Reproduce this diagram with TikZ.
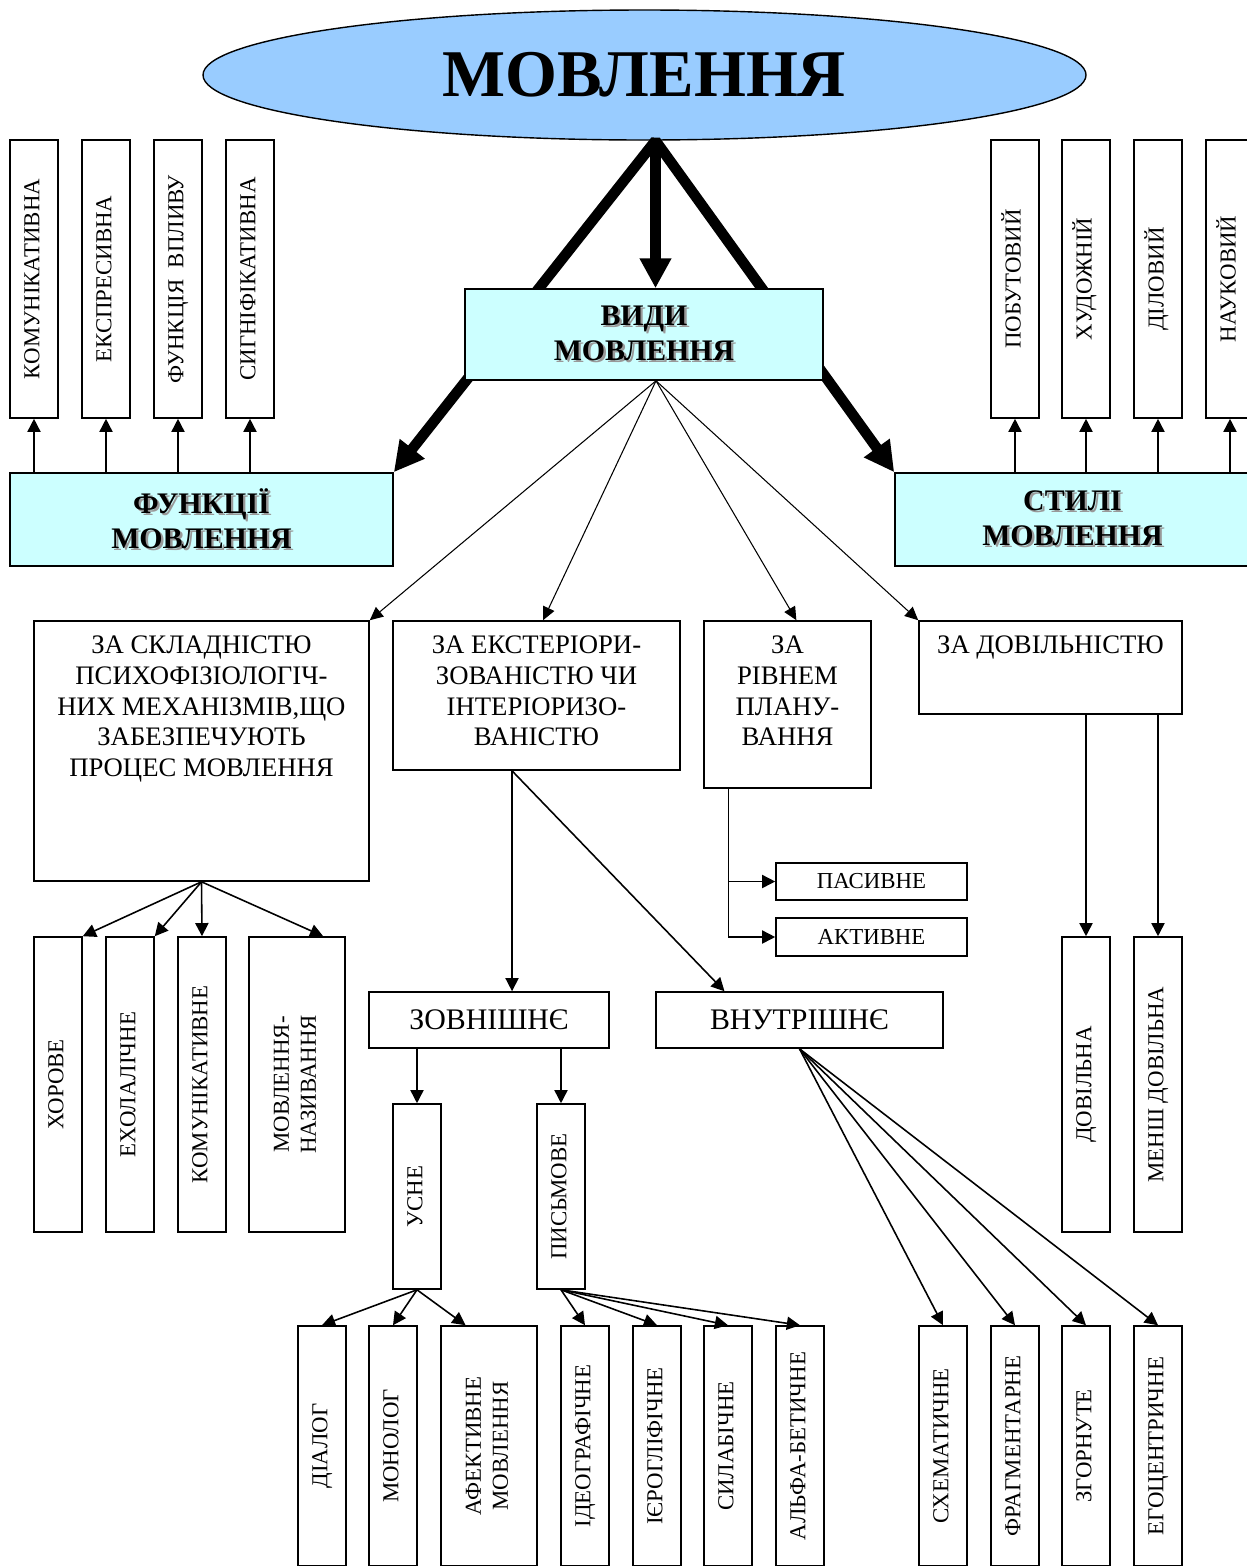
\documentclass[tikz,border=0pt]{standalone}
\usepackage{fontspec}
\setmainfont{Liberation Serif}
\usetikzlibrary{shapes.geometric,arrows.meta,calc}

\definecolor{ovalblue}{RGB}{153,204,255}
\definecolor{boxcyan}{RGB}{204,255,255}

\newcommand{\pxu}{0.02cm}
\newcommand{\vlab}[1]{\rotatebox{90}{\begin{tabular}{@{}c@{}}#1\end{tabular}}}
\newcommand{\shad}[1]{\makebox[0pt][l]{\kern1.3pt\raisebox{-1.3pt}{\textcolor{black!40}{#1}}}#1}

\tikzset{
	wh/.style 2 args={minimum width=#1*\pxu, minimum height=#2*\pxu},
	oval/.style={ellipse, draw, line width=0.8pt, fill=ovalblue, inner sep=0pt},
	headbox/.style={draw, line width=0.9pt, fill=boxcyan, inner sep=0pt, align=center,
		font=\fontsize{17}{20}\selectfont\bfseries},
	tallbox/.style={draw, line width=0.9pt, inner sep=0pt, font=\fontsize{13}{15.4}\selectfont},
	textbox/.style={draw, line width=0.9pt, inner sep=0pt, font=\fontsize{17}{19}\selectfont},
	boxlabel/.style={anchor=north, align=center, inner sep=0pt, yshift=-8.5pt,
		font=\fontsize{15.2}{17.6}\selectfont},
	arr/.style={line width=0.9pt, -{Triangle[length=7.5pt,width=7.5pt]}},
	thinarr/.style={line width=0.6pt, -{Triangle[length=7.5pt,width=7pt]}},
	fatarr/.style={line width=6pt, line join=bevel},
}

\begin{document}
\begin{tikzpicture}[x=\pxu, y=-\pxu]
			\useasboundingbox (0,0) rectangle (1247,1566);
			\clip (0,0) rectangle (1247,1566);

			% root
			\node[oval, wh={883}{130}, font=\fontsize{38}{44}\selectfont\bfseries] (mov) at (644.5,75) {МОВЛЕННЯ};

			% functions and styles
			\node[headbox, wh={383}{93}] (funk) at (201.5,519.5) {\shad{ФУНКЦІЇ}\\\shad{МОВЛЕННЯ}};
			\node[headbox, wh={355}{93}] (styli) at (1072.5,519.5) {\shad{СТИЛІ}\\\shad{МОВЛЕННЯ}};

			% fat arrows, under the types box
			\coordinate (hubtop) at ($(mov.south)+(11,0)$);
			\draw[fatarr, {Triangle[length=17pt,width=17pt]}-{Triangle[length=17pt,width=17pt]}]
				(funk.north east) -- (hubtop) -- (styli.north west);
			\node[headbox, wh={358}{91}] (vydy) at (644,334.5) {\shad{ВИДИ}\\\shad{МОВЛЕННЯ}};
			\draw[fatarr, -{Triangle[length=17pt,width=17pt]}] (hubtop) -- (vydy.north -| hubtop);

			% functions
			\node[tallbox, wh={48}{278}] (komf) at (34,279) {\vlab{КОМУНІКАТИВНА}};
			\node[tallbox, wh={48}{278}] (ekspr) at (106,279) {\vlab{ЕКСПРЕСИВНА}};
			\node[tallbox, wh={48}{278}] (vplyv) at (178,279) {\vlab{ФУНКЦІЯ\ \ ВПЛИВУ}};
			\node[tallbox, wh={48}{278}] (syhn) at (250,279) {\vlab{СИГНІФІКАТИВНА}};
			\draw[arr] (komf.south |- funk.north) -- (komf.south);
			\draw[arr] (ekspr.south |- funk.north) -- (ekspr.south);
			\draw[arr] (vplyv.south |- funk.north) -- (vplyv.south);
			\draw[arr] (syhn.south |- funk.north) -- (syhn.south);

			% styles
			\node[tallbox, wh={48}{278}] (pobut) at (1015,279) {\vlab{ПОБУТОВИЙ}};
			\node[tallbox, wh={48}{278}] (khud) at (1086,279) {\vlab{ХУДОЖНІЙ}};
			\node[tallbox, wh={48}{278}] (dilov) at (1158,279) {\vlab{ДІЛОВИЙ}};
			\node[tallbox, wh={48}{278}] (nauk) at (1230,279) {\vlab{НАУКОВИЙ}};
			\draw[arr] (pobut.south |- styli.north) -- (pobut.south);
			\draw[arr] (khud.south |- styli.north) -- (khud.south);
			\draw[arr] (dilov.south |- styli.north) -- (dilov.south);
			\draw[arr] (nauk.south |- styli.north) -- (nauk.south);

			% types
			\coordinate (hubbot) at ($(vydy.south)+(12,0)$);
			\node[textbox, wh={335}{260}, label={[boxlabel]north:{ЗА СКЛАДНІСТЮ\\ПСИХОФІЗІОЛОГІЧ-\\НИХ МЕХАНІЗМІВ,ЩО\\ЗАБЕЗПЕЧУЮТЬ\\ПРОЦЕС МОВЛЕННЯ}}] (sklad) at (201.5,751) {};
			\node[textbox, wh={287}{149}, label={[boxlabel]north:{ЗА ЕКСТЕРІОРИ-\\ЗОВАНІСТЮ ЧИ\\ІНТЕРІОРИЗО-\\ВАНІСТЮ}}] (ekst) at (536.5,695.5) {};
			\node[textbox, wh={167}{167}, label={[boxlabel]north:{ЗА\\РІВНЕМ\\ПЛАНУ-\\ВАННЯ}}] (riv) at (787.5,704.5) {};
			\node[textbox, wh={263}{93}, label={[boxlabel]north:{ЗА ДОВІЛЬНІСТЮ}}] (dov) at (1050.5,667.5) {};
			\draw[thinarr] (hubbot) -- (sklad.north east);
			\draw[thinarr] (hubbot) -- (ekst.85);
			\draw[thinarr] (hubbot) -- (riv.84);
			\draw[thinarr] (hubbot) -- (dov.north west);

			% by complexity
			\node[tallbox, wh={48}{295}] (khor) at (58,1084.5) {\vlab{ХОРОВЕ}};
			\node[tallbox, wh={48}{295}] (ekhol) at (130,1084.5) {\vlab{ЕХОЛАЛІЧНЕ}};
			\node[tallbox, wh={48}{295}] (komn) at (202,1084.5) {\vlab{КОМУНІКАТИВНЕ}};
			\node[tallbox, wh={96}{295}] (nazyv) at (297,1084.5) {\vlab{МОВЛЕННЯ-\\НАЗИВАННЯ}};
			\draw[arr] (sklad.south) -- (khor.north east);
			\draw[arr] (sklad.south) -- (ekhol.north east);
			\draw[arr] (sklad.south) -- (komn.north);
			\draw[arr] (sklad.south) -- (nazyv.80);

			% outer / inner
			\node[textbox, wh={240}{56}] (zovn) at (489,1020) {ЗОВНІШНЄ};
			\node[textbox, wh={287}{56}] (vnut) at (799.5,1020) {ВНУТРІШНЄ};
			\draw[arr] (ekst.252) -- (ekst.252 |- zovn.north);
			\draw[arr] (ekst.252) -- (vnut.159);

			% by planning
			\node[textbox, wh={191}{37}, font=\fontsize{13}{15}\selectfont] (pas) at (871.5,881.5) {ПАСИВНЕ};
			\node[textbox, wh={191}{38}, font=\fontsize{13}{15}\selectfont] (akt) at (871.5,937) {АКТИВНЕ};
			\draw[arr] (riv.235) |- (pas.west);
			\draw[arr] (riv.235) |- (akt.west);

			% by voluntariness
			\node[tallbox, wh={48}{295}] (dovl) at (1086,1084.5) {\vlab{ДОВІЛЬНА}};
			\node[tallbox, wh={48}{295}] (mensh) at (1158,1084.5) {\vlab{МЕНШ ДОВІЛЬНА}};
			\draw[arr] (dovl.north |- dov.south) -- (dovl.north);
			\draw[arr] (mensh.north |- dov.south) -- (mensh.north);

			% oral / written
			\node[tallbox, wh={48}{185}] (usne) at (417,1196.5) {\vlab{УСНЕ}};
			\node[tallbox, wh={48}{185}] (pysm) at (561,1196.5) {\vlab{ПИСЬМОВЕ}};
			\draw[arr] (usne.north |- zovn.south) -- (usne.north);
			\draw[arr] (pysm.north |- zovn.south) -- (pysm.north);

			% bottom row
			\node[tallbox, wh={48}{240}] (dial) at (322,1446) {\vlab{ДІАЛОГ}};
			\node[tallbox, wh={48}{240}] (monol) at (393,1446) {\vlab{МОНОЛОГ}};
			\node[tallbox, wh={96}{240}] (afekt) at (489,1446) {\vlab{АФЕКТИВНЕ\\МОВЛЕННЯ}};
			\node[tallbox, wh={48}{240}] (ideo) at (585,1446) {\vlab{ІДЕОГРАФІЧНЕ}};
			\node[tallbox, wh={48}{240}] (iero) at (657,1446) {\vlab{ІЄРОГЛІФІЧНЕ}};
			\node[tallbox, wh={48}{240}] (sylab) at (728,1446) {\vlab{СИЛАБІЧНЕ}};
			\node[tallbox, wh={48}{240}] (alfa) at (800,1446) {\vlab{АЛЬФА-БЕТИЧНЕ}};
			\node[tallbox, wh={48}{240}] (skhem) at (943,1446) {\vlab{СХЕМАТИЧНЕ}};
			\node[tallbox, wh={48}{240}] (frahm) at (1015,1446) {\vlab{ФРАГМЕНТАРНЕ}};
			\node[tallbox, wh={48}{240}] (zhorn) at (1086,1446) {\vlab{ЗГОРНУТЕ}};
			\node[tallbox, wh={48}{240}] (eho) at (1158,1446) {\vlab{ЕГОЦЕНТРИЧНЕ}};

			\draw[arr] (usne.south) -- (dial.north);
			\draw[arr] (usne.south) -- (monol.north);
			\draw[arr] (usne.south) -- (afekt.101);

			\draw[arr] (pysm.south) -- (ideo.north);
			\draw[arr] (pysm.south) -- (iero.north);
			\draw[arr] (pysm.south) -- (sylab.north);
			\draw[arr] (pysm.south) -- (alfa.north);

			\draw[arr] (vnut.south) -- (skhem.north);
			\draw[arr] (vnut.south) -- (frahm.north);
			\draw[arr] (vnut.south) -- (zhorn.north);
			\draw[arr] (vnut.south) -- (eho.north);
\end{tikzpicture}
\end{document}
